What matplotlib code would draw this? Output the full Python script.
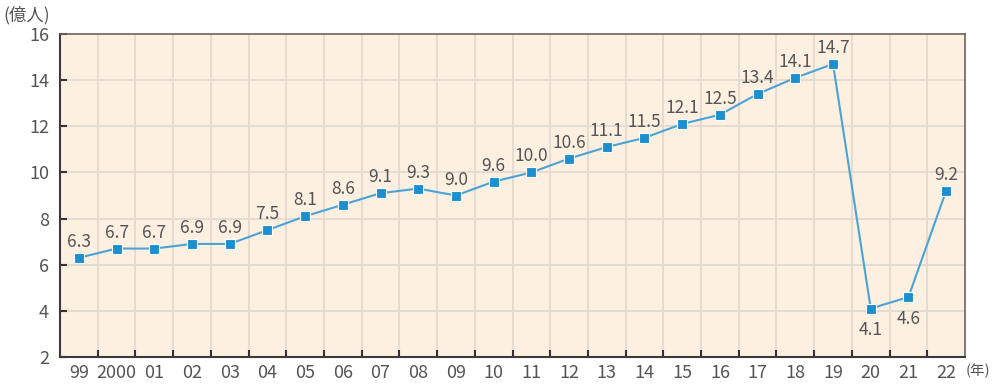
import matplotlib
matplotlib.use("Agg")
import matplotlib.pyplot as plt
import numpy as np

plt.rcParams['font.family'] = ['Noto Sans CJK JP', 'DejaVu Sans']

years = ["99", "2000", "01", "02", "03", "04", "05", "06", "07", "08", "09", "10",
         "11", "12", "13", "14", "15", "16", "17", "18", "19", "20", "21", "22"]
values = [6.3, 6.7, 6.7, 6.9, 6.9, 7.5, 8.1, 8.6, 9.1, 9.3, 9.0, 9.6,
          10.0, 10.6, 11.1, 11.5, 12.1, 12.5, 13.4, 14.1, 14.7, 4.1, 4.6, 9.2]
below = {"20", "21"}
yticks = [2, 4, 6, 8, 10, 12, 14, 16]

W, H = 992, 389
fig = plt.figure(figsize=(W/100, H/100), dpi=100)
ax = fig.add_axes([60/W, 1-357/H, (965-60)/W, (357-34)/H])
ax.set_facecolor('#fdf0e1')

n = len(years)
x = np.arange(n)
ax.set_xlim(-0.5, n-0.5)
ax.set_ylim(2, 16)

# grid
for b in np.arange(0.5, n-0.5, 1):
    ax.axvline(b, color='#e2d9d0', lw=1.3, zorder=1)
for yv in yticks[1:-1]:
    ax.axhline(yv, color='#e2d9d0', lw=1.3, zorder=1)

ax.plot(x, values, color='#4aa3d8', lw=1.5, zorder=3)
ax.plot(x, values, ls='none', marker='s', ms=7, mfc='#1b8fcf', mec='white', mew=0.8, zorder=4)

txtc = '#555555'
for xi, v, yr in zip(x, values, years):
    if yr in below:
        ax.annotate(f"{v:.1f}", (xi, v), xytext=(0, -9), textcoords='offset points',
                    ha='center', va='top', fontsize=12.5, color=txtc, zorder=5)
    else:
        ax.annotate(f"{v:.1f}", (xi, v), xytext=(0, 5), textcoords='offset points',
                    ha='center', va='bottom', fontsize=12.5, color=txtc, zorder=5)

ax.set_xticks(x)
ax.set_xticklabels(years)
ax.set_xticks(np.arange(0.5, n-0.5, 1), minor=True)
ax.tick_params(axis='x', which='major', length=0, labelsize=13, labelcolor=txtc, pad=5)
ax.tick_params(axis='x', which='minor', direction='in', length=5, width=1.5, color='#333333')
ax.set_yticks(yticks)
ax.tick_params(axis='y', which='major', direction='in', length=5, width=1.5, color='#333333',
               labelsize=13, labelcolor=txtc, pad=8)

for side in ['left', 'bottom']:
    ax.spines[side].set_color('#3a3a3a')
    ax.spines[side].set_linewidth(1.5)
for side in ['top', 'right']:
    ax.spines[side].set_color('#6e6258')
    ax.spines[side].set_linewidth(1.2)

fig.text(3/W, 1-15/H, "(億人)", fontsize=12.5, color=txtc, ha='left', va='center')
fig.text(966/W, 1-371/H, "(年)", fontsize=10.5, color=txtc, ha='left', va='center')

fig.savefig("out.png", dpi=100)
